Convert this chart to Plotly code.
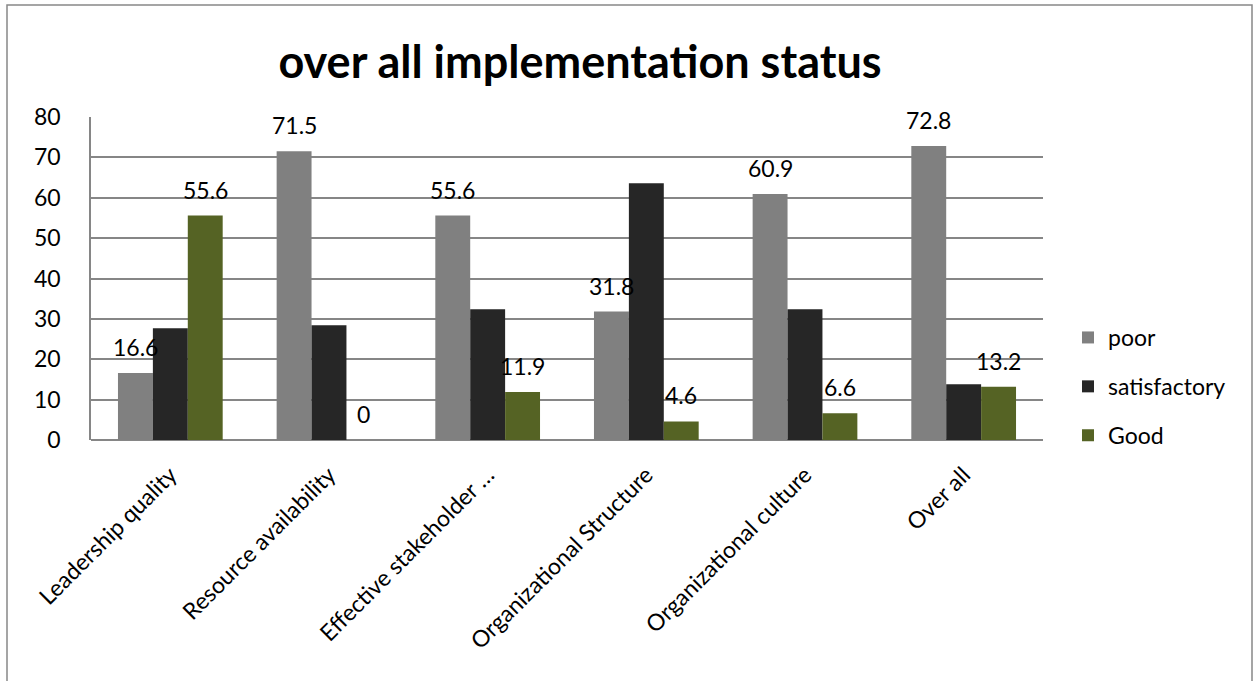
import plotly.graph_objects as go

categories = ["Leadership quality", "Resource availability", "Effective stakeholder …",
              "Organizational Structure", "Organizational culture", "Over all"]
poor = [16.6, 71.5, 55.6, 31.8, 60.9, 72.8]
satisfactory = [27.7, 28.4, 32.4, 63.6, 32.4, 13.8]
good = [55.6, 0, 11.9, 4.6, 6.6, 13.2]
y_ticks = [0, 10, 20, 30, 40, 50, 60, 70, 80]

W, H = 1255, 681
ml, mr, mt, mb = 91, 212, 117, 241
pw, ph = W - ml - mr, H - mt - mb

FONT = "Lato, Carlito, Calibri, sans-serif"
GRID = "#868686"
FS = 23

fig = go.Figure()
series = [("poor", poor, "#808080"), ("satisfactory", satisfactory, "#262626"), ("Good", good, "#556324")]
for name, vals, col in series:
    fig.add_trace(go.Bar(x=categories, y=vals, name=name, legendgroup=name,
                         marker=dict(color=col, line=dict(width=0))))

bargap = 0.34
bw = (1 - bargap) / 3
annotations = []
for vals, off in [(poor, -bw), (good, bw)]:
    for i, v in enumerate(vals):
        annotations.append(dict(x=i + off, y=v, xref="x", yref="y", text=f"{v:g}", showarrow=False,
                                yanchor="bottom", yshift=10, font=dict(family=FONT, size=FS, color="#000")))

fig.update_layout(
    width=W, height=H,
    margin=dict(l=ml, r=mr, t=mt, b=mb, pad=0),
    paper_bgcolor="white", plot_bgcolor="white",
    barmode="group", bargap=bargap, bargroupgap=0,
    title=dict(text="<b>over all implementation status</b>", x=580 / W, xanchor="center",
               y=1 - 62 / H, yanchor="middle", font=dict(family=FONT, size=45, color="#000")),
    font=dict(family=FONT, size=FS, color="#000"),
    legend=dict(x=(1068 - ml) / pw, y=(440 - 316) / ph, xanchor="left", yanchor="top",
                font=dict(family=FONT, size=FS), itemwidth=30, traceorder="grouped",
                tracegroupgap=16, bgcolor="rgba(0,0,0,0)"),
    xaxis=dict(type="category", tickangle=-45, tickfont=dict(family=FONT, size=FS),
               showline=False, showgrid=False, ticks="", range=[-0.5, len(categories) - 0.5],
               ticklabelstandoff=16),
    yaxis=dict(range=[0, 80], tickvals=y_ticks, showgrid=True, gridcolor=GRID, gridwidth=1.5,
               showline=True, linecolor=GRID, linewidth=1.5, zeroline=True, zerolinecolor=GRID,
               zerolinewidth=1.5, ticks="", tickfont=dict(family=FONT, size=FS), ticklabelstandoff=24),
    annotations=annotations,
    shapes=[dict(type="rect", xref="paper", yref="paper",
                 x0=(7 - ml) / pw, x1=(1252 - ml) / pw, y0=(440 - 700) / ph, y1=(440 - 5) / ph,
                 line=dict(color="#888888", width=1.5), fillcolor="rgba(0,0,0,0)", layer="below")],
)

fig.write_html("out.html")
